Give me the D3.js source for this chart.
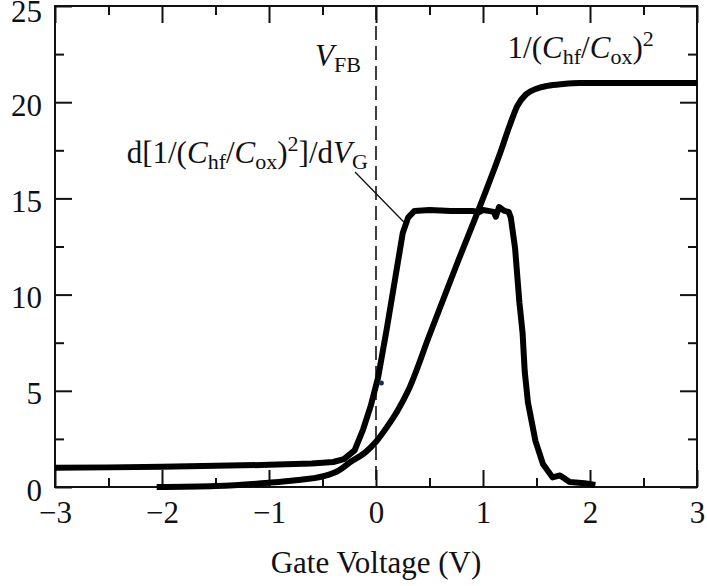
<!doctype html>
<html>
    <head>
        <meta charset="utf-8">
        <title>Gate voltage</title>
        <style>
            body {
                margin: 0;
                overflow: hidden;
                background: #fff;
            }
            svg, svg text, svg tspan {
                font-family: "Liberation Serif", "DejaVu Serif", serif !important;
            }
            text {
                fill: #111;
            }
        </style>
    </head>
    <body>
        <script src="https://cdn.jsdelivr.net/npm/d3@7"></script>
        <script>
            // 1/(Chf/Cox)^2
            const invV = [-2.05, -1.5, -1.0, -0.75, -0.5, -0.35, -0.24, -0.1, 0, 0.1, 0.2, 0.3, 0.5, 0.75, 1.0, 1.15, 1.25, 1.32, 1.4, 1.5, 1.6, 1.75, 1.9, 2.2, 3.0];
            const invC2 = [0, 0.05, 0.22, 0.35, 0.55, 0.85, 1.3, 1.8, 2.35, 3.1, 3.95, 5.0, 7.9, 11.5, 15.0, 17.2, 18.8, 19.8, 20.4, 20.7, 20.85, 20.95, 21.0, 21.0, 21.0];

            // d[1/(Chf/Cox)^2]/dVG
            const derV = [-3, -2.5, -2, -1.5, -1, -0.6, -0.4, -0.3, -0.2, -0.12, -0.05, 0.02, 0.1, 0.16, 0.25, 0.3, 0.36, 0.5, 0.7, 0.9, 0.97, 1.0, 1.05, 1.1, 1.12, 1.15, 1.2, 1.24, 1.26, 1.3, 1.34, 1.37, 1.39, 1.42, 1.49, 1.56, 1.65, 1.72, 1.81, 1.95, 2.05];
            const derC2 = [1.0, 1.02, 1.05, 1.1, 1.15, 1.22, 1.3, 1.45, 1.9, 3.0, 4.2, 5.7, 8.2, 10.2, 13.2, 14.0, 14.35, 14.4, 14.35, 14.35, 14.3, 14.4, 14.35, 14.3, 14.05, 14.55, 14.35, 14.3, 14.0, 12.4, 9.6, 8.0, 6.0, 4.4, 2.4, 1.2, 0.5, 0.6, 0.26, 0.2, 0.1];

            const xMajor = [-3, -2, -1, 0, 1, 2, 3];
            const xMinor = [-2.5, -1.5, -0.5, 0.5, 1.5, 2.5];
            const yMajor = [0, 5, 10, 15, 20, 25];
            const yMinor = [2.5, 7.5, 12.5, 17.5, 22.5];
            const vFB = 0;
            const stray = [0.05, 5.4];

            const width = 707, height = 586;
            const margin = {top: 6, right: 10, bottom: 99, left: 55};

            const svg = d3.select('body').append('svg')
                .attr('width', width)
                .attr('height', height);

            const x = d3.scaleLinear().domain([-3, 3]).range([margin.left, width - margin.right]);
            const y = d3.scaleLinear().domain([0, 25]).range([height - margin.bottom, margin.top]);

            const fmt = d3.format('d');

            function ticks(axis, vals, size, labels, pad) {
                return (g) => {
                    g.call(axis.tickValues(vals).tickSize(-size).tickPadding(pad || 0)
                        .tickFormat(labels ? fmt : ''));
                    g.attr('font-family', null).attr('font-size', null);
                    g.select('.domain').remove();
                    g.selectAll('line').attr('stroke', '#111').attr('stroke-width', 2);
                    g.selectAll('text').style('font-size', '31px').attr('fill', null);
                };
            }

            const yb = y(0), yt = y(25), xl = x(-3), xr = x(3);

            svg.append('g').attr('transform', `translate(0,${yb})`).call(ticks(d3.axisBottom(x), xMajor, 17, true, 14));
            svg.append('g').attr('transform', `translate(0,${yb})`).call(ticks(d3.axisBottom(x), xMinor, 9));
            svg.append('g').attr('transform', `translate(0,${yt})`).call(ticks(d3.axisTop(x), xMajor, 17));
            svg.append('g').attr('transform', `translate(0,${yt})`).call(ticks(d3.axisTop(x), xMinor, 9));
            const yAx = svg.append('g').attr('transform', `translate(${xl},0)`).call(ticks(d3.axisLeft(y), yMajor, 17, true, 13));
            // top label sits against the edge; keep it just inside
            yAx.selectAll('text').attr('dy', (d) => d === 25 ? '0.5em' : '0.42em');
            svg.append('g').attr('transform', `translate(${xl},0)`).call(ticks(d3.axisLeft(y), yMinor, 9));
            svg.append('g').attr('transform', `translate(${xr},0)`).call(ticks(d3.axisRight(y), yMajor, 17));
            svg.append('g').attr('transform', `translate(${xr},0)`).call(ticks(d3.axisRight(y), yMinor, 9));

            // frame
            svg.append('rect')
                .attr('x', xl).attr('y', yt)
                .attr('width', xr - xl).attr('height', yb - yt)
                .attr('fill', 'none').attr('stroke', '#111').attr('stroke-width', 2);

            // flat-band dashed line
            svg.append('line')
                .attr('x1', x(vFB)).attr('x2', x(vFB))
                .attr('y1', yt).attr('y2', yb)
                .attr('stroke', '#111').attr('stroke-width', 1.6)
                .attr('stroke-dasharray', '14,6');

            const line = d3.line()
                .x((d) => x(d[0]))
                .y((d) => y(d[1]))
                .curve(d3.curveMonotoneX);

            svg.append('path')
                .datum(d3.zip(invV, invC2))
                .attr('d', line)
                .attr('fill', 'none').attr('stroke', '#000')
                .attr('stroke-width', 6).attr('stroke-linejoin', 'round');

            svg.append('path')
                .datum(d3.zip(derV, derC2))
                .attr('d', line.curve(d3.curveLinear))
                .attr('fill', 'none').attr('stroke', '#000')
                .attr('stroke-width', 6).attr('stroke-linejoin', 'round');

            svg.append('circle')
                .attr('cx', x(stray[0])).attr('cy', y(stray[1]))
                .attr('r', 2.5).attr('fill', '#1a2c5a');

            // labels
            function label(px, py, parts) {
                const t = svg.append('text').attr('x', px).attr('y', py).style('font-size', '31px');
                parts.forEach(([s, kind]) => {
                    const ts = t.append('tspan').text(s);
                    if (kind === 'i') ts.style('font-style', 'italic');
                    if (kind === 'sub') ts.style('font-size', '22px').attr('baseline-shift', '-6');
                    if (kind === 'sup') ts.style('font-size', '22px').attr('baseline-shift', '12');
                });
                return t;
            }

            label(x(-0.57), y(21.9), [['V', 'i'], ['FB', 'sub']]);
            label(x(1.23), y(22.3), [['1/(', ''], ['C', 'i'], ['hf', 'sub'], ['/', ''], ['C', 'i'], ['ox', 'sub'], [')', ''], ['2', 'sup']]);
            label(x(-2.33), y(16.85), [['d[1/(', ''], ['C', 'i'], ['hf', 'sub'], ['/', ''], ['C', 'i'], ['ox', 'sub'], [')', ''], ['2', 'sup'], [']/d', ''], ['V', 'i'], ['G', 'sub']]);

            // leader line
            svg.append('line')
                .attr('x1', x(-0.196)).attr('y1', y(16.37))
                .attr('x2', x(0.26)).attr('y2', y(13.77))
                .attr('stroke', '#111').attr('stroke-width', 1.3);

            svg.append('text')
                .attr('x', (xl + xr) / 2).attr('y', 573)
                .attr('text-anchor', 'middle')
                .style('font-size', '31px')
                .text('Gate Voltage (V)');
        </script>
    </body>
</html>
